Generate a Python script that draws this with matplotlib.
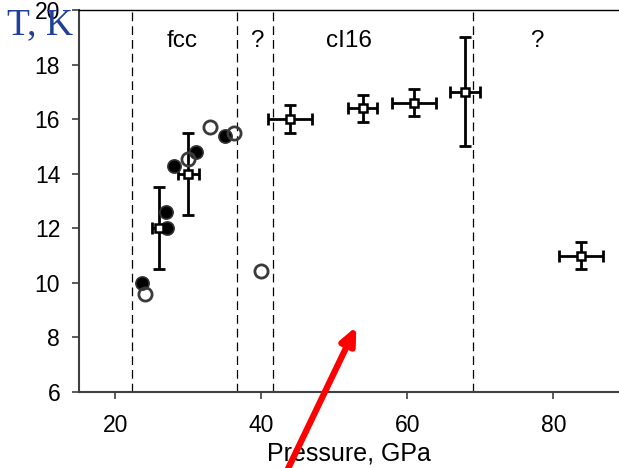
import matplotlib
matplotlib.use("Agg")
import matplotlib.pyplot as plt

plt.rcParams['font.family'] = ['Liberation Sans', 'DejaVu Sans']

# filled circles
filled_p = [23.7, 26.9, 27.0, 28.0, 31.0, 35.0]
filled_t = [10.0, 12.6, 12.0, 14.3, 14.8, 15.4]

# open circles
open_p = [24.0, 29.9, 33.0, 36.2, 40.0]
open_t = [9.6, 14.55, 15.7, 15.5, 10.45]

# squares with error bars
sq_p = [25.9, 30.0, 43.9, 53.9, 60.9, 67.9, 83.8]
sq_t = [12.0, 14.0, 16.0, 16.4, 16.6, 17.0, 11.0]
sq_perr = [0.9, 1.5, 3.0, 2.0, 3.0, 2.0, 3.0]
sq_terr = [1.5, 1.5, 0.5, 0.5, 0.5, 2.0, 0.5]

# phase boundaries and labels
bounds = [22.2, 36.6, 41.6, 69.0]
phase_x = [29.2, 39.3, 52.0, 77.7]
phase_names = ['fcc', '?', 'cI16', '?']

fig = plt.figure(figsize=(6.19, 4.68), dpi=100)
ax = fig.add_axes([79 / 619, 76 / 468, 1 - 79 / 619, 382 / 468])

for b in bounds:
    ax.axvline(b, color='black', lw=0.9, dashes=(7, 4))

ax.errorbar(sq_p, sq_t, xerr=sq_perr, yerr=sq_terr, fmt='none',
            ecolor='black', elinewidth=2, capsize=4.5, capthick=2, zorder=3)
ax.plot(filled_p, filled_t, 'o', ms=9.5, mfc='black', mec='#333333', mew=1.2, zorder=4)
ax.plot(open_p, open_t, 'o', ms=9.5, mfc='none', mec='#3a3a3a', mew=2, zorder=4)
ax.plot(sq_p, sq_t, 's', ms=5.5, mfc='white', mec='black', mew=1.8, zorder=5)

for x, name in zip(phase_x, phase_names):
    ax.text(x, 18.85, name, ha='center', va='center', fontsize=17.5)

ax.set_xlim(15, 89)
ax.set_ylim(6, 20)
ax.set_xticks([20, 40, 60, 80])
ax.set_yticks([6, 8, 10, 12, 14, 16, 18, 20])
ax.tick_params(labelsize=16.5, length=5, width=1.2, color='#404040')
ax.tick_params(axis='y', pad=8.5)
ax.tick_params(axis='x', pad=11)
ax.set_xlabel('Pressure, GPa', fontsize=18, labelpad=3)

ax.spines['right'].set_visible(False)
for s in ['left', 'bottom']:
    ax.spines[s].set_color('#404040')
    ax.spines[s].set_linewidth(1.5)
ax.spines['top'].set_linewidth(1.0)

fig.text(7 / 619, 1 - 34 / 468, 'T, K', family='Liberation Serif', fontsize=27,
         color='#1f3f9a', ha='left', va='baseline')

ax.annotate('', xy=(53.0, 8.4), xytext=(43.3, 3.0), xycoords='data',
            annotation_clip=False,
            arrowprops=dict(arrowstyle='-|>,head_width=0.45,head_length=1.0',
                            color='red', lw=4.5, shrinkA=0, shrinkB=0))

fig.savefig('out.png', dpi=100)
